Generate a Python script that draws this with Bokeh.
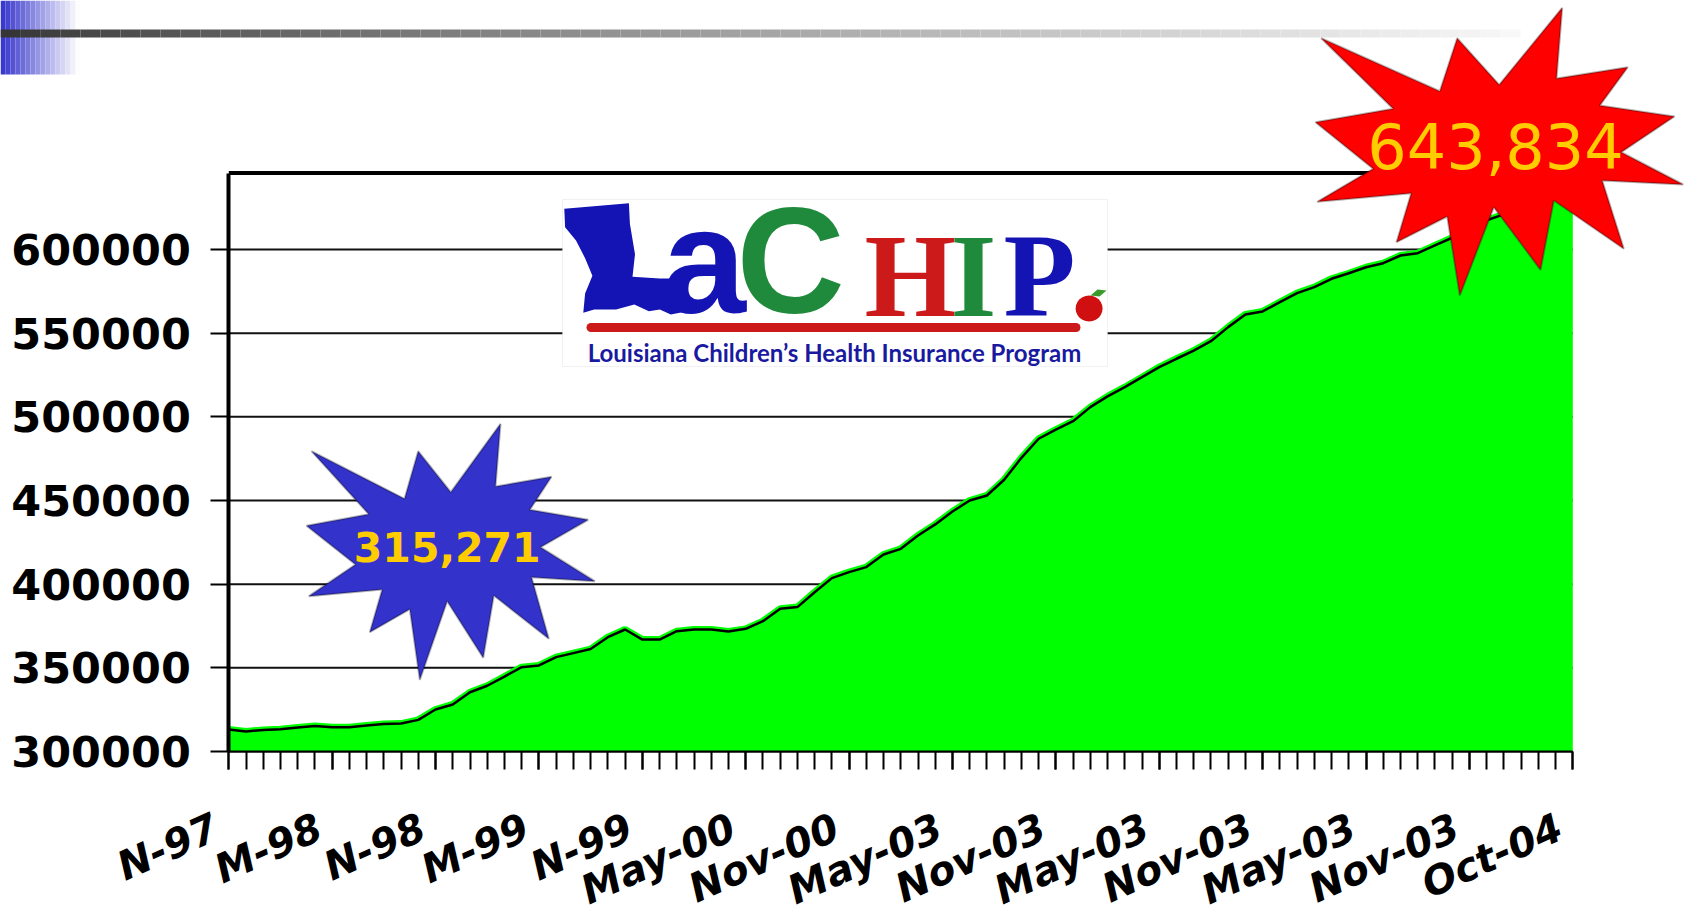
import math
from bokeh.plotting import figure
from bokeh.models import (Range1d, FixedTicker, BasicTickFormatter, PolyAnnotation,
                          Label, BoxAnnotation)
from bokeh.embed import file_html
from bokeh.resources import INLINE

# ---------------- data ----------------
enrollment = [313100, 312000, 312900, 313300, 314300, 315300, 314500, 314500, 315500, 316500,
              316700, 318900, 325100, 328100, 335400, 339300, 344800, 350400, 351400, 356400,
              358800, 361200, 368300, 372900, 366900, 366900, 371900, 372900, 372900, 371700,
              373300, 377900, 385300, 386300, 395200, 403600, 407200, 410200, 417700, 421100,
              429100, 435700, 443400, 450000, 453000, 462400, 475500, 486900, 492400, 497400,
              505800, 512200, 517700, 523700, 529700, 534700, 539600, 545200, 553600, 561200,
              563000, 568500, 573900, 577500, 582500, 585800, 589400, 591800, 596400, 597800,
              602400, 607000, 611800, 617500, 621000, 626500, 632000, 638000, 643834]
months = list(range(len(enrollment)))
tick_labels = ["N-97", "M-98", "N-98", "M-99", "N-99", "May-00", "Nov-00",
               "May-03", "Nov-03", "May-03", "Nov-03", "May-03", "Nov-03", "Oct-04"]
label_positions = [6 * k for k in range(13)] + [len(enrollment) - 1]
y_ticks = [300000, 350000, 400000, 450000, 500000, 550000, 600000]
callouts = ["315,271", "643,834"]

# ---------------- layout (frame fills the canvas; axes are pinned) ----------------
W, H = 1686, 924
X_END = len(enrollment) - 1
Y_BASE = y_ticks[0]
X_PX0, X_PX_PER = 228.3, (1572.3 - 228.3) / X_END
Y_PX0, Y_PX_PER = 751.0, 83.67 / 50000.0


def dx(px):
    return (px - X_PX0) / X_PX_PER


def dy(py):
    return Y_BASE + (Y_PX0 - py) / Y_PX_PER


Y_TOP = dy(172.5)

p = figure(width=W, height=H, output_backend="svg", toolbar_location=None,
           x_range=Range1d(dx(0), dx(W)), y_range=Range1d(dy(H), dy(0)),
           min_border=0, min_border_left=0, min_border_right=0,
           min_border_top=0, min_border_bottom=0)
p.outline_line_color = None
p.background_fill_color = "white"
p.border_fill_color = "white"
p.xgrid.visible = False
p.ygrid.visible = False

# grid lines
p.segment(x0=[0] * len(y_ticks), x1=[X_END] * len(y_ticks), y0=y_ticks, y1=y_ticks,
          line_color="#111111", line_width=2, level="underlay")

# area
p.varea(x=months, y1=Y_BASE, y2=enrollment, fill_color="#00FF00")
p.line(months, enrollment, line_color="#00FF00", line_width=7)
p.line(months, enrollment, line_color="black", line_width=2.5)

# top frame line
p.segment(x0=[0], x1=[X_END], y0=[Y_TOP], y1=[Y_TOP], line_color="black", line_width=4)

# axes
xa = p.xaxis[0]
xa.fixed_location = Y_BASE
xa.bounds = (0, X_END)
xa.ticker = FixedTicker(ticks=label_positions, minor_ticks=months)
# a trailing no-break space nudges each right-aligned label slightly left of its tick
xa.major_label_overrides = {pos: lab + "\u00a0" for pos, lab in zip(label_positions, tick_labels)}
xa.major_label_orientation = 0.42
xa.major_label_standoff = 50
xa.major_label_text_font = "DejaVu Sans"
xa.major_label_text_font_style = "bold italic"
xa.major_label_text_font_size = "40px"
xa.major_label_text_color = "black"
xa.axis_line_color = "black"
xa.axis_line_width = 2
xa.major_tick_out = 18
xa.major_tick_in = 0
xa.major_tick_line_width = 2
xa.minor_tick_out = 18
xa.minor_tick_in = 0
xa.minor_tick_line_width = 2
xa.minor_tick_line_color = "black"

ya = p.yaxis[0]
ya.fixed_location = 0
ya.bounds = (Y_BASE, Y_TOP)
ya.ticker = FixedTicker(ticks=y_ticks)
ya.formatter = BasicTickFormatter(use_scientific=False)
ya.major_label_text_font = "DejaVu Sans"
ya.major_label_text_font_style = "bold"
ya.major_label_text_font_size = "43px"
ya.major_label_text_color = "black"
ya.major_label_standoff = 20
ya.axis_line_color = "black"
ya.axis_line_width = 4
ya.major_tick_out = 18
ya.major_tick_in = 0
ya.major_tick_line_width = 2
ya.minor_tick_line_color = None

# ---------------- decorations ----------------
for x0 in range(0, 78, 5):
    t = min(1.0, (x0 + 2.5) / 78.0)
    r = int(0x33 + (255 - 0x33) * t)
    b = int(0xCC + (255 - 0xCC) * t)
    p.add_layout(BoxAnnotation(left=dx(x0), right=dx(x0 + 5), top=dy(0), bottom=dy(74),
                               fill_color="#%02x%02x%02x" % (r, r, b), fill_alpha=1,
                               line_color=None))
for x0 in range(0, 1510, 20):
    t = ((x0 + 10) / 1510.0) ** 0.8
    v = int(0x33 + (0xF8 - 0x33) * t)
    p.add_layout(BoxAnnotation(left=dx(x0), right=dx(x0 + 20), top=dy(29), bottom=dy(37),
                               fill_color="#%02x%02x%02x" % (v, v, v), fill_alpha=1,
                               line_color=None))

# logo
LOGO_BLUE, LOGO_GREEN, LOGO_RED = "#1414B4", "#208A3C", "#CC1A1A"
p.add_layout(BoxAnnotation(left=dx(562), right=dx(1107), top=dy(199), bottom=dy(366),
                           fill_color="white", fill_alpha=1, line_color="#d0d0d0", line_width=1))
louisiana_px = [(563.8, 208.3), (628.4, 202.7), (629.4, 223.3), (634.5, 253.7), (632, 276.3),
                (659.3, 278), (675.7, 278), (677.6, 293), (695.8, 309), (670.3, 314),
                (659.3, 309), (648.4, 310.7), (633.8, 304), (615.6, 309), (593.7, 309),
                (582.8, 312.3), (584.6, 293), (591.9, 275.3), (584.6, 257.7), (575.5, 240),
                (564.6, 226.7)]
p.add_layout(PolyAnnotation(xs=[dx(a) for a, _ in louisiana_px], ys=[dy(b) for _, b in louisiana_px],
                            xs_units="data", ys_units="data",
                            fill_color=LOGO_BLUE, fill_alpha=1, line_color=None))
for ch, xpx, ypx, col, font, size in [("a", 662, 260, LOGO_BLUE, "Liberation Sans", "150px"),
                                      ("C", 736, 260, LOGO_GREEN, "Liberation Sans", "150px"),
                                      ("H", 864, 276, LOGO_RED, "Liberation Serif", "118px"),
                                      ("I", 950, 276, LOGO_GREEN, "Liberation Serif", "118px"),
                                      ("P", 1003, 276, LOGO_BLUE, "Liberation Serif", "118px")]:
    p.add_layout(Label(x=dx(xpx), y=dy(ypx), text=ch, text_align="left",
                       text_baseline="middle", text_font=font, text_font_style="bold",
                       text_font_size=size, text_color=col))
p.add_layout(BoxAnnotation(left=dx(586), right=dx(1080), top=dy(322.5), bottom=dy(331.5),
                           fill_color=LOGO_RED, fill_alpha=1, line_color=None, border_radius=5))
apple_px = [(1088.6 + 13.5 * math.cos(2 * math.pi * k / 24), 308 + 13 * math.sin(2 * math.pi * k / 24))
            for k in range(24)]
p.add_layout(PolyAnnotation(xs=[dx(a) for a, _ in apple_px], ys=[dy(b) for _, b in apple_px],
                            xs_units="data", ys_units="data",
                            fill_color="#D01010", fill_alpha=1, line_color=None))
leaf_px = [(1090, 295), (1097, 289), (1106, 290), (1099, 296)]
p.add_layout(PolyAnnotation(xs=[dx(a) for a, _ in leaf_px], ys=[dy(b) for _, b in leaf_px],
                            xs_units="data", ys_units="data",
                            fill_color="#3A9A2A", fill_alpha=1, line_color=None))
p.add_layout(Label(x=dx(834), y=dy(352), text="Louisiana Children\u2019s Health Insurance Program",
                   text_align="center", text_baseline="middle", text_font="Lato",
                   text_font_style="bold", text_font_size="24px", text_color="#1A1AA0"))

# starbursts
blue_star_px = [(311, 450.7), (404, 498.3), (417.7, 450.7), (450.3, 491.7), (500, 423.3),
                (495, 486), (551, 476.3), (529.3, 509.3), (587.7, 519.3), (540, 546.7),
                (594.3, 580.7), (531, 576.7), (548.3, 638.3), (493.3, 595), (482.7, 657.3),
                (446.7, 600.7), (419.3, 679.3), (409.3, 608.7), (369.3, 631.7), (381.7, 589),
                (308.3, 595.7), (355, 564), (306, 525.3), (368.3, 513.7)]
red_star_px = [(1320.7, 37.7), (1439.3, 90.7), (1456.7, 37.7), (1498.7, 84.3), (1561.7, 7.3),
               (1556, 78), (1627.3, 66.7), (1599.3, 105), (1674, 116), (1620.7, 151.7),
               (1682.7, 184), (1601.7, 180), (1623.3, 248.3), (1553.3, 200), (1540, 269.3),
               (1493.3, 206.7), (1459.3, 295), (1446.7, 216), (1396, 241.7), (1410.7, 192.7),
               (1316.7, 201.3), (1372.7, 168.3), (1315, 121.7), (1392.7, 108.3)]
for pts, col in [(blue_star_px, "#3333CC"), (red_star_px, "#FF0000")]:
    p.add_layout(PolyAnnotation(xs=[dx(a) for a, _ in pts], ys=[dy(b) for _, b in pts],
                                xs_units="data", ys_units="data",
                                fill_color=col, fill_alpha=1, line_color="black", line_width=2))

p.add_layout(Label(x=dx(446.7), y=dy(546.7), text=callouts[0], text_align="center",
                   text_baseline="middle", text_font="DejaVu Sans", text_font_style="bold",
                   text_font_size="41px", text_color="#FFCC00"))
p.add_layout(Label(x=dx(1495), y=dy(145.8), text=callouts[1], text_align="center",
                   text_baseline="middle", text_font="DejaVu Sans", text_font_style="normal",
                   text_font_size="62px", text_color="#FFCC00"))

open("out.html", "w").write(file_html(p, INLINE))
